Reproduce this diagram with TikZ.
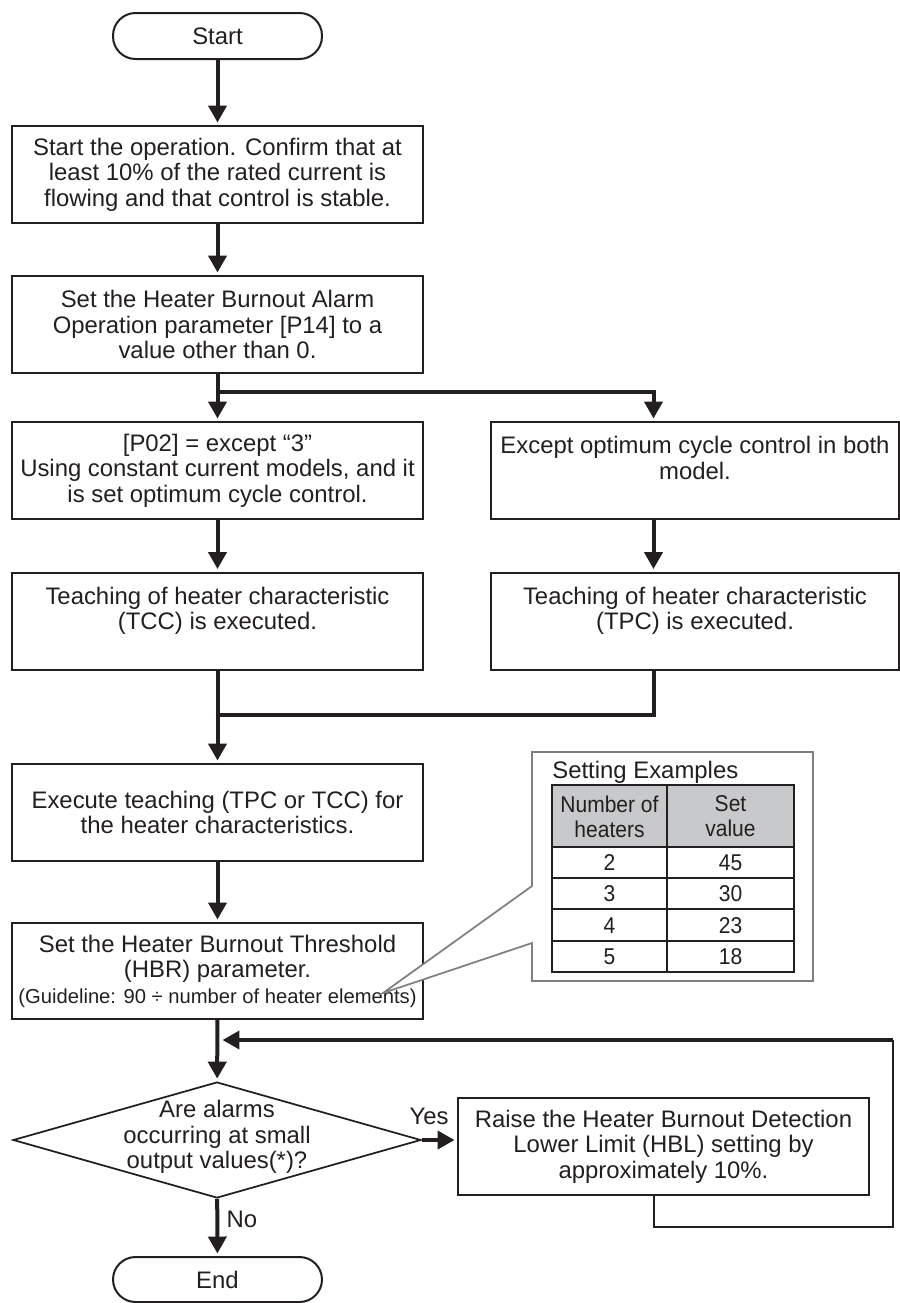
\documentclass[tikz,border=0pt]{standalone}
\usepackage{fontspec}
\setmainfont{Liberation Sans}
\newfontfamily\narrowfont[FakeStretch=0.92]{Liberation Sans}
\usepackage{tikz}
\usetikzlibrary{arrows.meta}
\usetikzlibrary{shapes.geometric}
\tikzset{>={Triangle[width=0.36cm,length=0.34cm]}}
\definecolor{ink}{RGB}{35,31,32}
\definecolor{headgray}{RGB}{200,201,202}
\definecolor{callgray}{RGB}{128,128,128}
\newcommand{\boxfont}{\fontsize{13.6pt}{14.5pt}\selectfont}
\newcommand{\guidefont}{\fontsize{11.5pt}{13pt}\selectfont}
\newcommand{\tabfont}{\narrowfont\fontsize{13pt}{14pt}\selectfont}
\tikzset{
  box/.style={draw=ink, line width=0.04cm, rectangle, minimum width=8.22cm, minimum height=1.94cm, align=center, inner sep=0pt},
  widebox/.style={box, minimum width=8.16cm},
  term/.style={draw=ink, line width=0.04cm, rectangle, rounded corners=0.45cm, minimum width=4.18cm, minimum height=0.92cm, inner sep=0pt},
  decision/.style={draw=ink, line width=0.035cm, diamond, minimum width=8.16cm, minimum height=2.32cm, inner sep=0pt},
  flow/.style={draw=ink, line width=0.08cm, shorten >=0.05cm},
  grid/.style={draw=ink, line width=0.045cm},
}

\begin{document}
\begin{tikzpicture}[x=0.02cm, y=-0.02cm, font=\boxfont, text=ink]
\useasboundingbox (0,0) rectangle (900,1303);

\node (start) at (217.5,36) [term] {Start};
\node (box1) at (217.5,174.5) [box] {Start the operation. Confirm that at\\least 10\% of the rated current is\\flowing and that control is stable.};
\node (box2) at (217.5,324.5) [box] {Set the Heater Burnout Alarm\\Operation parameter [P14] to a\\value other than 0.};
\node (box3L) at (217.5,470.5) [box] {[P02] = except “3”\\Using constant current models, and it\\is set optimum cycle control.};
\node (box3R) at (695,470.5) [widebox] {Except optimum cycle control in both\\model.\\\mbox{}};
\node (box4L) at (217.5,621) [box] {Teaching of heater characteristic\\(TCC) is executed.\\\mbox{}};
\node (box4R) at (695,621) [widebox] {Teaching of heater characteristic\\(TPC) is executed.\\\mbox{}};
\node (box5) at (217.5,812.5) [box] {Execute teaching (TPC or TCC) for\\the heater characteristics.};
\node (box6) at (217.5,971) [box, minimum height=1.92cm] {Set the Heater Burnout Threshold\\(HBR) parameter.\\{\guidefont (Guideline: 90 ÷ number of heater elements)}};
\node (dec) at (217,1140) [decision] {};
\node (dectext) at (217,1137) [align=center] {Are alarms\\occurring at small\\output values(*)?};
\node (raise) at (663.5,1146.5) [box] {Raise the Heater Burnout Detection\\Lower Limit (HBL) setting by\\approximately 10\%.};
\node (end) at (217.5,1279.5) [term, minimum height=0.9cm] {End};

\coordinate (split) at (217.5,392);
\coordinate (splitR) at (653.5,392);
\coordinate (merge) at (217.5,715);
\coordinate (mergeR) at (653.5,715);
\coordinate (loopA) at (654,1227);
\coordinate (loopB) at (893,1227);
\coordinate (loopC) at (893,1040);
\coordinate (loopD) at (217.5,1040);

\draw[flow,->] (start) -- (box1);
\draw[flow,->] (box1) -- (box2);
\draw[flow,->] (box2) -- (box3L);
\draw[flow,->] (split) -- (splitR) -- (splitR |- box3R.north);
\draw[flow,->] (box3L) -- (box4L);
\draw[flow,->] (splitR |- box3R.south) -- (splitR |- box4R.north);
\draw[flow] (splitR |- box4R.south) -- (mergeR) -- (merge);
\draw[flow,->] (box4L) -- (box5);
\draw[flow,->] (box5) -- (box6);
\draw[flow,->] (box6) -- (dec);
\draw[flow,->] (dec.east) -- (dec.east -| raise.west);
\draw[flow,->] (dec) -- (end);
\draw[grid] (raise.south -| loopA) -- (loopA) -- (loopB) -- (loopC);
\draw[flow,->, shorten >=0.1cm] (loopC) -- (loopD);

\node (yes) at (429,1116.5) [inner sep=0pt] {Yes};
\node (no) at (242,1219.5) [inner sep=0pt] {No};

% setting examples
\coordinate (tip) at (383,993);
\draw[callgray, line width=0.035cm, fill=white] (532,752) -- (813,752) -- (813,981) -- (532,981) -- (532,943) -- (tip) -- (532,886) -- cycle;
\node (setex) at (552,778) [anchor=base west, inner sep=0pt] {Setting Examples};
\fill[headgray] (552,785) rectangle (794,847);
\draw[grid] (552,785) rectangle (794,972);
\foreach \y in {847,878,909,941}
  \draw[grid] (552,\y) -- (794,\y);
\draw[grid] (667,785) -- (667,972);
\node (hnum) at (609.5,817) [align=center, font=\tabfont] {Number of\\heaters};
\node (hset) at (730.5,816) [align=center, font=\tabfont] {Set\\value};
\foreach \n/\v [count=\i] in {2/45,3/30,4/23,5/18} {
  \node (num\i) at (609.5,831.5+31.25*\i) [font=\tabfont] {\n};
  \node (val\i) at (730.5,831.5+31.25*\i) [font=\tabfont] {\v};
}
\end{tikzpicture}
\end{document}
